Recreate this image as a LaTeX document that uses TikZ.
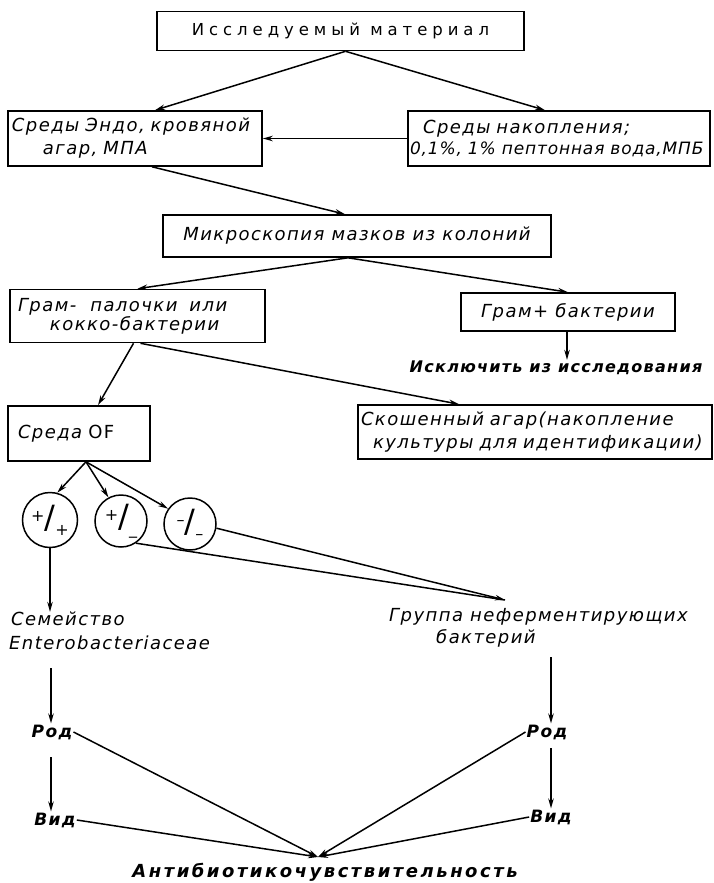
\documentclass[tikz,border=0pt]{standalone}
\usepackage{fontspec}
\setmainfont{DejaVu Sans}
\newfontfamily\hand{DejaVu Sans}[LetterSpace=8]
\newfontfamily\handw{DejaVu Sans}[LetterSpace=14]
\newfontfamily\spaced{DejaVu Sans}[LetterSpace=30]
\usetikzlibrary{arrows.meta,calc}
\newcommand\frsign[2]{\raisebox{7pt}{#1}{\fontsize{32}{32}\selectfont/}\raisebox{-7pt}{#2}}
\begin{document}
\begin{tikzpicture}[x=1pt,y=-1pt,
  bx/.style={draw,line width=1.6pt,inner ysep=0pt},
  hw/.style={font=\hand\itshape\fontsize{18}{22}\selectfont},
  hwb/.style={font=\hand\bfseries\itshape\fontsize{16}{20}\selectfont,inner sep=1pt},
  txt/.style={hw,inner sep=0pt,align=left},
  sgn/.style={circle,draw,line width=1.5pt,minimum size=52pt,inner sep=0pt,font=\fontsize{16}{16}\selectfont},
  arr/.style={line width=1.5pt,-{Stealth[length=10pt,width=5.5pt]}}]
\useasboundingbox (0,0) rectangle (713,883);

\node[bx,minimum width=367pt,minimum height=39pt,font=\spaced\fontsize{16.5}{18}\selectfont] (top) at (340.5,31) {Исследуемый материал};

\node[bx,hw,minimum height=55pt,text width=246pt,inner xsep=4pt,align=left,font=\hand\itshape\fontsize{18}{23}\selectfont] (endo) at (135,138.5)
  {Среды Эндо, кровяной\\\hspace*{31pt}агар, МПА};
\node[bx,hw,minimum height=55pt,text width=298pt,inner xsep=2pt,align=left,font=\hand\itshape\fontsize{18}{21}\selectfont] (nak) at (559,138.5)
  {\hspace*{13pt}Среды накопления;\\\mbox{\fontsize{17}{21}\selectfont\addfontfeature{LetterSpace=5}0,1\%, 1\% пептонная вода,МПБ}};

\node[bx,hw,minimum width=388pt,minimum height=42pt] (micro) at (357,236) {Микроскопия мазков из колоний};

\node[bx,hw,minimum height=53pt,text width=239pt,inner xsep=8pt,align=left,font=\hand\itshape\fontsize{18}{19}\selectfont] (gneg) at (137.5,316)
  {Грам-\hspace{8pt} палочки\hspace{6pt} или\\\hspace*{32pt}кокко-бактерии};
\node[bx,hw,minimum width=214pt,minimum height=38pt] (gpos) at (568,312) {Грам+ бактерии};
\node[hwb] (excl) at (556,368) {Исключить из исследования};

\node[bx,hw,minimum height=55pt,text width=122pt,inner xsep=10pt,align=left] (of) at (79,433.5) {Среда \upshape OF};
\node[bx,hw,minimum height=54pt,text width=348pt,inner xsep=3pt,align=left,font=\hand\itshape\fontsize{18}{23}\selectfont] (agar) at (535,432)
  {Скошенный агар(накопление\\\hspace*{12pt}культуры для идентификации)};

\node[sgn,minimum size=55pt] (c1) at (50,520) {\frsign{+}{+}};
\node[sgn] (c2) at (121,521) {\frsign{+}{\_}};
\node[sgn] (c3) at (190,524) {\frsign{–}{–}};

\node[txt,anchor=west,font=\hand\itshape\fontsize{18}{24}\selectfont] (sem) at (9,631) {\hspace*{2pt}Семейство\\Enterobacteriaceae};
\node[txt,anchor=west] (grp) at (389,628) {Группа неферментирующих\\\hspace*{47pt}бактерий};

\node[hwb,font=\hand\bfseries\itshape\fontsize{17}{20}\selectfont] (rod1) at (52,732) {Род};
\node[hwb,font=\hand\bfseries\itshape\fontsize{17}{20}\selectfont] (vid1) at (55,820) {Вид};
\node[hwb,font=\hand\bfseries\itshape\fontsize{17}{20}\selectfont] (rod2) at (547,732) {Род};
\node[hwb,font=\hand\bfseries\itshape\fontsize{17}{20}\selectfont] (vid2) at (551,817) {Вид};
\node[hwb,font=\handw\bfseries\itshape\fontsize{18}{20}\selectfont] (anti) at (325,872) {Антибиотикочувствительность};

\coordinate (grpin) at (505,600);
\coordinate (semout) at (51,668);
\coordinate (grpout) at (551,657);
\coordinate (rod1out) at (51,757);
\coordinate (rod2out) at (551,748);
\coordinate (conv) at (318,857);

\draw[arr] ([xshift=5pt]top.south) -- ([xshift=20pt]endo.north);
\draw[arr] ([xshift=5pt]top.south) -- ([xshift=-14pt]nak.north);
\draw[arr] (nak.west) -- (endo.east);
\draw[arr] ([xshift=17pt]endo.south) -- ([xshift=-12pt]micro.north);
\draw[arr] ([xshift=-9pt]micro.south) -- (gneg.north);
\draw[arr] ([xshift=-9pt]micro.south) -- (gpos.north);
\draw[arr] ([xshift=-1pt]gpos.south) -- ([xshift=-1pt]gpos.south |- excl.north);
\draw[arr] ([xshift=-4pt]gneg.south) -- ([xshift=19pt]of.north);
\draw[arr] ([xshift=3pt]gneg.south) -- ([xshift=-76pt]agar.north);
\draw[arr] ([xshift=7pt]of.south) -- (c1.75);
\draw[arr] ([xshift=7pt]of.south) -- (c2.118);
\draw[arr] ([xshift=7pt]of.south) -- (c3.145);
\draw[arr] (c1.south) -- (c1.south |- sem.north);
\draw[line width=1.5pt] (c2.-56) -- (grpin);
\draw[arr] (c3.-9) -- (grpin);
\draw[arr] (semout) -- (rod1.north -| semout);
\draw[arr] (grpout) -- (rod2.north -| grpout);
\draw[arr] (rod1out) -- (vid1.north -| rod1out);
\draw[arr] (rod2out) -- (vid2.north -| rod2out);
\draw[arr] (rod1.east) -- (conv);
\draw[arr] (vid1.east) -- (conv);
\draw[arr] (rod2.west) -- (conv);
\draw[arr] (vid2.west) -- (conv);
\end{tikzpicture}
\end{document}
